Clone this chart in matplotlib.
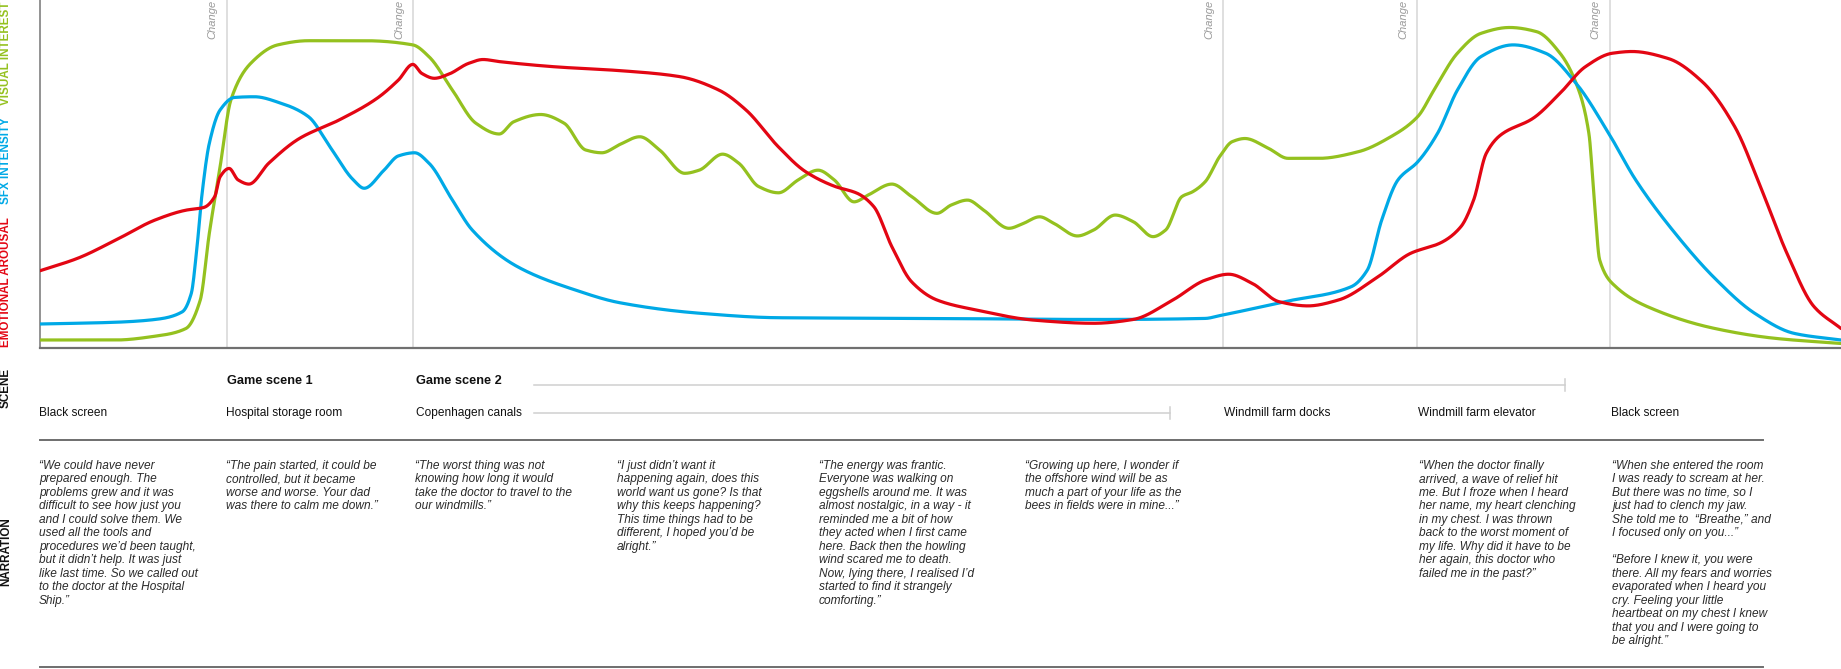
import numpy as np
import matplotlib
matplotlib.use("Agg")
import matplotlib.pyplot as plt
from matplotlib import transforms

plt.rcParams['font.family'] = ['Liberation Sans', 'DejaVu Sans']

# ---------------- data ----------------
# time axis 0..100 (share of the session), intensity 0..100
green_t = [0, 4.2, 6.4, 8.1, 8.9, 9.4, 10.0, 10.6, 11.7, 13.2, 14.9, 18.0, 20.7, 21.6, 22.9,
           24.2, 25.5, 26.3, 27.8, 29.1, 30.3, 31.2, 32.2, 33.3, 34.4, 35.8, 36.6, 37.9, 38.8,
           39.9, 41.0, 42.1, 43.2, 44.1, 45.2, 46.0, 47.3, 48.4, 49.8, 50.6, 51.5, 52.4, 53.8,
           54.6, 55.5, 56.3, 57.6, 58.5, 59.7, 60.7, 61.8, 62.5, 63.4, 64.0, 64.7, 65.5, 66.2,
           66.9, 68.2, 69.3, 71.0, 73.2, 75.0, 76.5, 77.4, 78.7, 80.0, 81.6, 83.1, 84.4, 85.3,
           86.0, 86.3, 86.6, 87.5, 89.7, 93.0, 96.3, 100]
green_v = [2.3, 2.3, 3.4, 5.6, 13.8, 32.9, 52.1, 71.3, 81.8, 87.1, 88.3, 88.3, 87.1, 83.7, 74.1,
           64.6, 61.5, 65.0, 67.1, 64.6, 56.9, 56.1, 58.5, 60.7, 56.9, 50.2, 51.1, 55.7, 53.1,
           46.4, 44.6, 48.3, 51.1, 48.3, 42.0, 44.0, 47.1, 43.5, 38.7, 41.1, 42.5, 39.6, 34.4,
           35.8, 37.7, 35.8, 32.2, 33.9, 38.2, 36.3, 32.0, 33.9, 43.5, 44.9, 47.8, 55.0, 59.3,
           60.2, 57.4, 54.5, 54.5, 56.4, 60.7, 66.5, 74.1, 84.7, 90.4, 92.1, 90.9, 84.7, 76.0,
           61.7, 42.5, 25.3, 17.6, 10.9, 5.6, 2.8, 1.3]

blue_t = [0, 4.2, 6.4, 7.9, 8.4, 8.7, 9.0, 9.4, 10.0, 10.8, 11.9, 13.4, 14.9, 16.1, 17.4, 18.0,
          19.1, 19.9, 20.8, 21.6, 22.9, 24.0, 26.5, 29.7, 32.2, 36.6, 41.0, 49.8, 58.5, 64.7,
          65.5, 69.2, 72.8, 73.7, 74.5, 75.4, 76.5, 77.6, 78.7, 80.0, 81.8, 83.6, 85.3, 87.1,
          88.6, 90.8, 93.0, 95.2, 97.4, 100]
blue_v = [6.9, 7.4, 8.2, 10.4, 15.7, 28.1, 44.4, 58.8, 68.4, 72.0, 72.2, 70.3, 66.5, 57.8, 48.3,
          45.9, 51.1, 55.2, 56.1, 53.1, 42.5, 33.9, 23.4, 16.7, 13.0, 10.0, 8.7, 8.5, 8.2, 8.5,
          9.3, 13.4, 17.6, 22.4, 36.8, 48.3, 53.5, 61.7, 74.1, 83.7, 87.1, 84.7, 76.0, 61.7,
          48.3, 32.9, 20.0, 10.0, 4.2, 2.3]

red_t = [0, 2.1, 4.2, 6.4, 8.1, 9.1, 9.7, 10.0, 10.5, 11.0, 11.6, 12.7, 14.4, 16.6, 18.7, 19.9,
         20.7, 21.2, 21.9, 22.7, 23.8, 24.6, 25.5, 28.6, 32.2, 35.5, 37.7, 39.2, 41.0, 42.5,
         44.1, 45.4, 46.3, 47.3, 48.4, 49.8, 52.0, 55.2, 58.5, 60.7, 62.9, 64.7, 66.0, 67.3,
         68.8, 70.4, 72.1, 74.3, 76.1, 77.8, 78.9, 79.6, 80.3, 81.1, 82.9, 84.4, 85.8, 87.3,
         88.4, 90.4, 92.3, 94.1, 95.6, 97.0, 98.5, 100]
red_v = [22.2, 25.8, 31.0, 36.8, 39.6, 40.4, 43.5, 49.2, 51.6, 48.3, 47.1, 53.1, 60.2, 65.5, 71.7,
         77.0, 81.5, 78.9, 77.5, 78.7, 81.8, 82.9, 82.3, 80.8, 79.7, 78.0, 74.1, 68.4, 57.8,
         50.7, 46.5, 44.4, 40.6, 29.1, 19.0, 13.8, 10.9, 8.0, 7.1, 8.2, 13.8, 19.5, 21.2, 18.6,
         13.3, 12.1, 13.8, 20.5, 27.2, 30.3, 34.9, 42.5, 55.9, 61.2, 66.0, 73.2, 80.8, 84.7,
         85.2, 83.2, 76.5, 63.6, 45.4, 27.2, 11.9, 5.6]

change_t = [10.37, 20.73, 65.70, 76.47, 87.16]

series_labels = ["EMOTIONAL AROUSAL", "SFX INTENSITY", "VISUAL INTEREST"]
series_colors = ["#E30613", "#00A9E6", "#94C11F"]

scene_row1 = ["Game scene 1", "Game scene 2"]
scene_row2 = ["Black screen", "Hospital storage room", "Copenhagen canals",
              "Windmill farm docks", "Windmill farm elevator", "Black screen"]

narration = [
    ["\u201cWe could have never", "prepared enough. The", "problems grew and it was",
     "difficult to see how just you", "and I could solve them. We", "used all the tools and",
     "procedures we\u2019d been taught,", "but it didn\u2019t help. It was just",
     "like last time. So we called out", "to the doctor at the Hospital", "Ship.\u201d"],
    ["\u201cThe pain started, it could be", "controlled, but it became",
     "worse and worse. Your dad", "was there to calm me down.\u201d"],
    ["\u201cThe worst thing was not", "knowing how long it would",
     "take the doctor to travel to the", "our windmills.\u201d"],
    ["\u201cI just didn\u2019t want it", "happening again, does this", "world want us gone? Is that",
     "why this keeps happening?", "This time things had to be", "different, I hoped you\u2019d be",
     "alright.\u201d"],
    ["\u201cThe energy was frantic.", "Everyone was walking on", "eggshells around me. It was",
     "almost nostalgic, in a way - it", "reminded me a bit of how", "they acted when I first came",
     "here. Back then the howling", "wind scared me to death.", "Now, lying there, I realised I\u2019d",
     "started to find it strangely", "comforting.\u201d"],
    ["\u201cGrowing up here, I wonder if", "the offshore wind will be as",
     "much a part of your life as the", "bees in fields were in mine...\u201d"],
    ["\u201cWhen the doctor finally", "arrived, a wave of relief hit", "me. But I froze when I heard",
     "her name, my heart clenching", "in my chest. I was thrown", "back to the worst moment of",
     "my life. Why did it have to be", "her again, this doctor who", "failed me in the past?\u201d"],
    ["\u201cWhen she entered the room", "I was ready to scream at her.", "But there was no time, so I",
     "just had to clench my jaw.", "She told me to  \u201cBreathe,\u201d and", "I focused only on you...\u201d",
     "", "\u201cBefore I knew it, you were", "there. All my fears and worries",
     "evaporated when I heard you", "cry. Feeling your little", "heartbeat on my chest I knew",
     "that you and I were going to", "be alright.\u201d"],
]


def pchip(x, y, xn):
    x = np.asarray(x, float); y = np.asarray(y, float)
    h = np.diff(x); d = np.diff(y) / h
    m = np.zeros_like(y)
    for k in range(1, len(x) - 1):
        if d[k - 1] * d[k] > 0:
            w1 = 2 * h[k] + h[k - 1]; w2 = h[k] + 2 * h[k - 1]
            m[k] = (w1 + w2) / (w1 / d[k - 1] + w2 / d[k])
    m[0] = d[0]; m[-1] = d[-1]
    idx = np.clip(np.searchsorted(x, xn) - 1, 0, len(x) - 2)
    t = (xn - x[idx]) / h[idx]
    h00 = 2 * t**3 - 3 * t**2 + 1; h10 = t**3 - 2 * t**2 + t
    h01 = -2 * t**3 + 3 * t**2; h11 = t**3 - t**2
    return h00 * y[idx] + h10 * h[idx] * m[idx] + h01 * y[idx + 1] + h11 * h[idx] * m[idx + 1]


# ---------------- figure ----------------
W, H = 1841, 669
fig = plt.figure(figsize=(W / 100, H / 100), dpi=100)
ax_left, ax_bottom_px = 40, 348
ax = fig.add_axes([ax_left / W, 1 - ax_bottom_px / H, (W - ax_left) / W, ax_bottom_px / H])
ax.set_xlim(0, 100)
ax.set_ylim(0, 100)
ax.set_xticks([]); ax.set_yticks([])
for s in ["top", "right"]:
    ax.spines[s].set_visible(False)
ax.spines["left"].set_color("#8a8a8a"); ax.spines["left"].set_linewidth(1.3)
ax.spines["bottom"].set_color("#707070"); ax.spines["bottom"].set_linewidth(1.6)

for ct in change_t:
    ax.axvline(ct, color="#dcdcdc", lw=1.3, zorder=1)
off = transforms.offset_copy(ax.transData, fig=fig, x=-9, y=0, units="dots")
for ct in change_t:
    ax.text(ct, 100, "Change", rotation=90, ha="right", va="top", transform=off,
            fontsize=8.0, style="italic", color="#9a9a9a", clip_on=False)

xs = np.linspace(0, 100, 3000)
for tt, vv, c in [(green_t, green_v, series_colors[2]), (blue_t, blue_v, series_colors[1]),
                  (red_t, red_v, series_colors[0])]:
    ax.plot(xs, pchip(tt, vv, xs), color=c, lw=2.3, solid_capstyle="round", zorder=3)

# overlay in pixel coordinates
ov = fig.add_axes([0, 0, 1, 1])
ov.set_xlim(0, W); ov.set_ylim(H, 0)
ov.axis("off"); ov.patch.set_visible(False)

# series labels on the left
label_centers = [282, 161, 53]
for lab, c, yc in zip(series_labels, series_colors, label_centers):
    ov.text(6, yc, lab, rotation=90, ha="center", va="center", fontsize=8.4,
            fontweight="bold", color=c)

ov.text(6, 388, "SCENE", rotation=90, ha="center", va="center", fontsize=8.4,
        fontweight="bold", color="#111111")
ov.text(6, 552, "NARRATION", rotation=90, ha="center", va="center", fontsize=8.4,
        fontweight="bold", color="#111111")

row1_x = [227, 416]
for s, x in zip(scene_row1, row1_x):
    ov.text(x, 381, s, ha="left", va="center", fontsize=9.2, fontweight="bold", color="#111111")
row2_x = [39, 226, 416, 1224, 1418, 1611]
for s, x in zip(scene_row2, row2_x):
    ov.text(x, 413, s, ha="left", va="center", fontsize=8.6, color="#111111")

# scene span lines
ov.plot([534, 1565], [385, 385], color="#cfcfcf", lw=1.1)
ov.plot([1565, 1565], [379, 391], color="#cfcfcf", lw=1.1)
ov.plot([534, 1170], [413, 413], color="#cfcfcf", lw=1.1)
ov.plot([1170, 1170], [407, 419], color="#cfcfcf", lw=1.1)

# section separators
ov.plot([40, 1763], [440, 440], color="#6e6e6e", lw=1.4)
ov.plot([40, 1763], [667, 667], color="#6e6e6e", lw=1.4)

col_x = [39, 226, 415, 617, 819, 1025, 1419, 1612]
for lines, x in zip(narration, col_x):
    for i, line in enumerate(lines):
        ov.text(x, 465.7 + i * 13.5, line, ha="left", va="center", fontsize=8.6,
                style="italic", color="#2a2a2a")

fig.savefig("out.png", dpi=100)
